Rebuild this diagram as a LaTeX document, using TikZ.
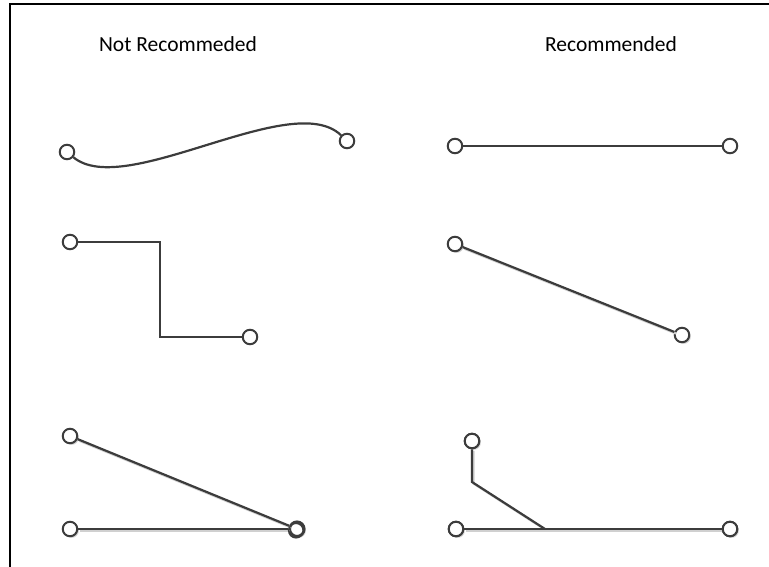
\documentclass[tikz,border=0pt]{standalone}
\usepackage{fontspec}
\setmainfont{Carlito}
\usetikzlibrary{shadows}
\definecolor{ink}{HTML}{3C3C3C}
\definecolor{shadowgray}{HTML}{D0D0D0}
\begin{document}
\begin{tikzpicture}[x=1pt,y=-1pt,
  pin/.style={circle,draw=ink,line width=2pt,fill=white,minimum size=14.5pt,inner sep=0pt},
  spin/.style={pin,drop shadow={shadow xshift=1.6pt,shadow yshift=-1.6pt,fill=shadowgray,opacity=1}},
  wire/.style={draw=ink,line width=2.2pt},
  swire/.style={wire,preaction={draw=shadowgray,line width=2.2pt,transform canvas={shift={(1.6pt,-1.6pt)}}}},
  title/.style={font=\fontsize{21.5}{24}\selectfont,text=black,inner sep=0pt}]
\useasboundingbox (0,0) rectangle (769,567);
\draw[black,line width=1.8pt] (10,567) -- (10,4) -- (769,4);
\node[title] (tnr) at (178,44) {Not Recommeded};
\node[title] (tr) at (611,44) {Recommended};
% row 1 left
\node[pin] (a) at (67,152) {};
\node[pin] (b) at (347,141) {};
\draw[wire] (a) .. controls (125,200) and (292,88) .. (b);
% row 2 left
\node[pin] (c) at (70,242) {};
\node[pin] (d) at (250,337) {};
\coordinate (c1) at (160,242);
\coordinate (c2) at (160,337);
\draw[wire] (c) -- (c1) -- (c2) -- (d);
% row 3 left
\node[spin] (e) at (70,436) {};
\node[spin] (f) at (70,529) {};
\node[spin,line width=2.6pt] (g) at (297,529) {};
\draw[swire] (e) -- (g);
\draw[swire] (f) -- (g);
\node[pin,fill=none,line width=1.6pt] (g2) at (296,530.5) {};
% row 1 right
\node[pin] (h) at (455,146) {};
\node[pin] (i) at (730,146) {};
\draw[wire] (h) -- (i);
% row 2 right
\node[spin] (j) at (455,244) {};
\node[spin] (k) at (682,335) {};
\draw[swire] (j) -- (k);
% row 3 right
\node[spin] (l) at (472,441) {};
\node[spin] (m) at (456,529) {};
\node[spin] (n) at (730,529) {};
\coordinate (l1) at (472,482);
\coordinate (l2) at (545,529);
\draw[swire] (l) -- (l1) -- (l2);
\draw[swire] (m) -- (n);
\node[pin] at (l) {};
\node[pin] at (m) {};
\node[pin] at (n) {};
\end{tikzpicture}
\end{document}
